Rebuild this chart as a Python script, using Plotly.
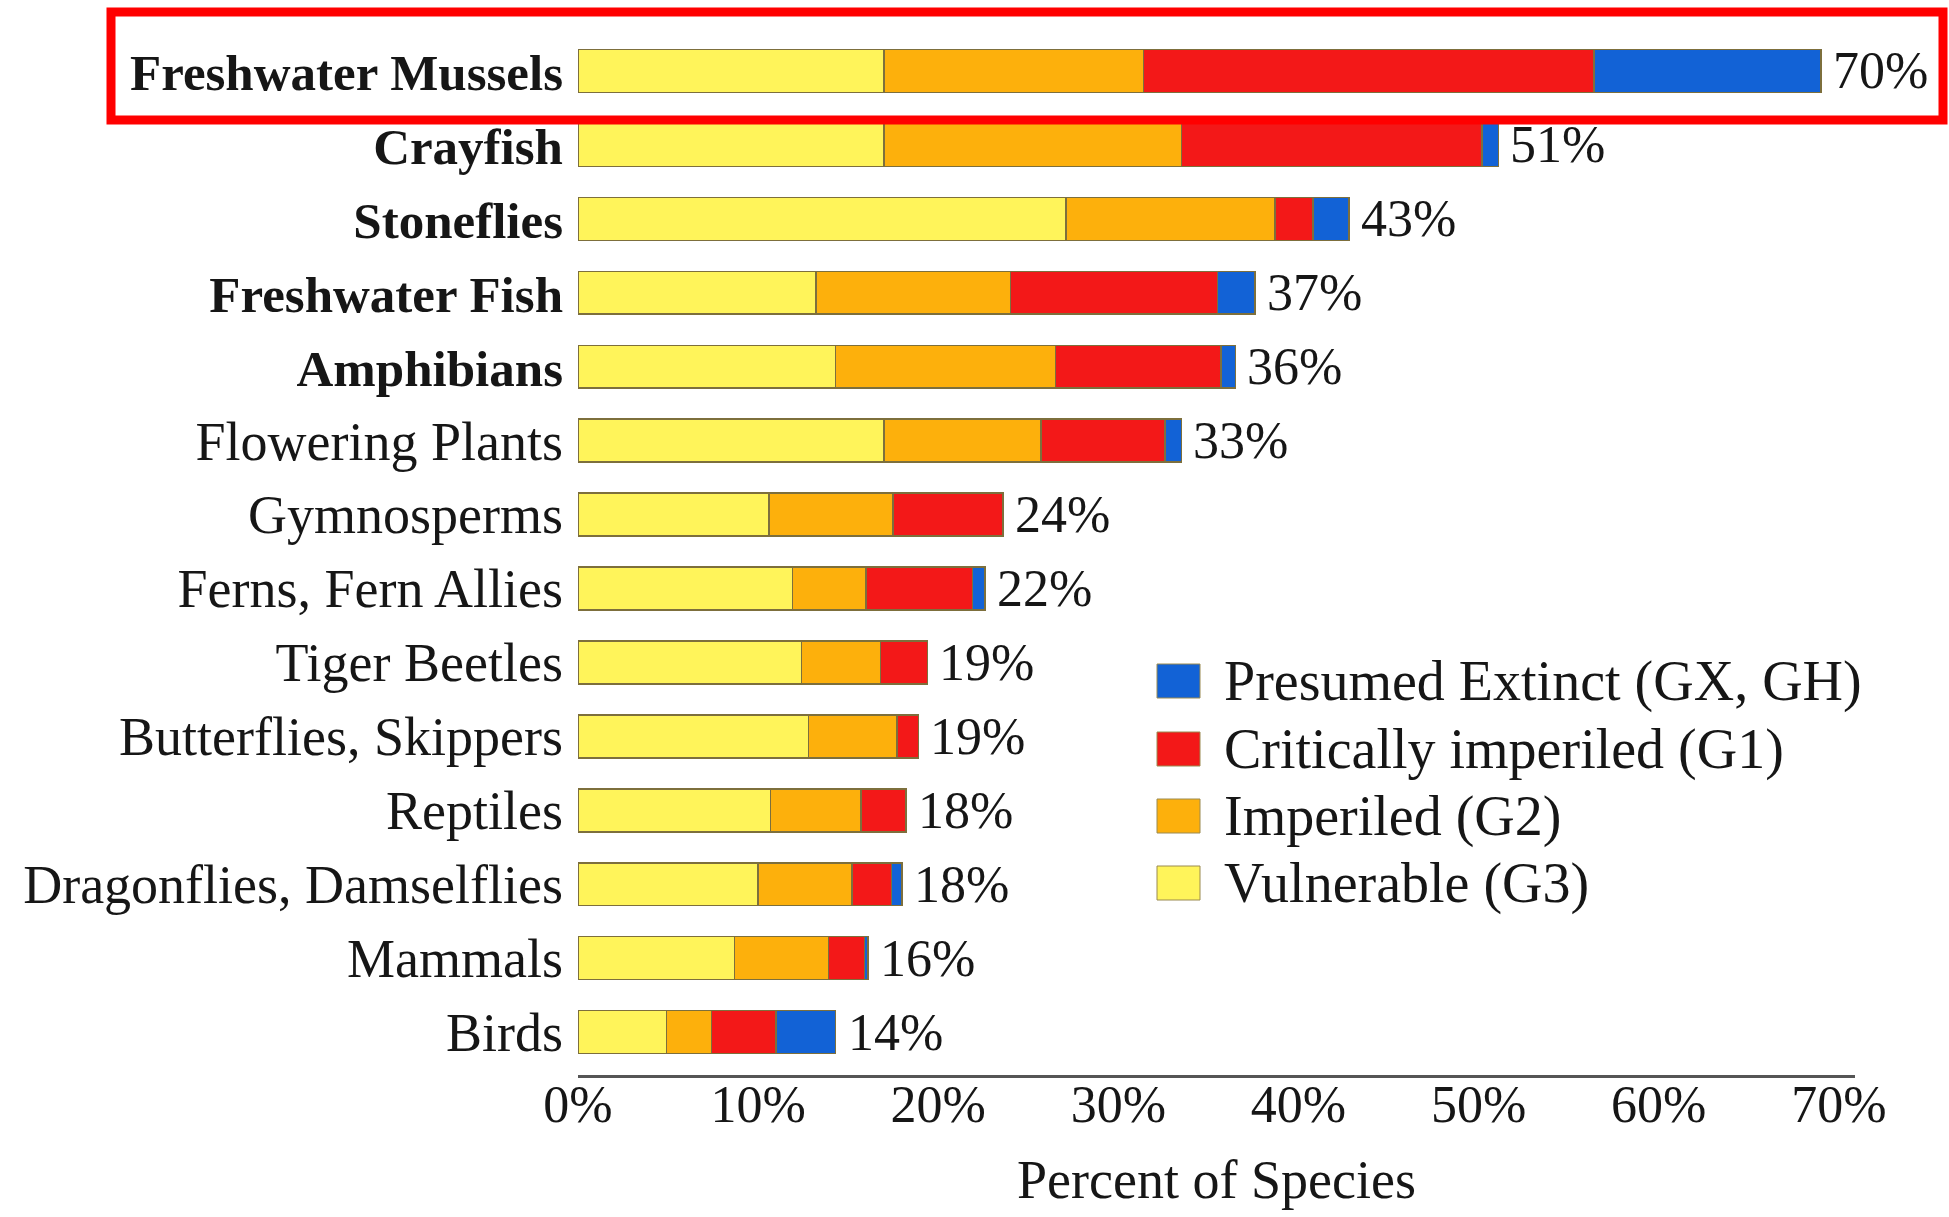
import plotly.graph_objects as go

# ---------------- data ----------------
categories = [
    "Freshwater Mussels", "Crayfish", "Stoneflies", "Freshwater Fish", "Amphibians",
    "Flowering Plants", "Gymnosperms", "Ferns, Fern Allies", "Tiger Beetles",
    "Butterflies, Skippers", "Reptiles", "Dragonflies, Damselflies", "Mammals", "Birds",
]
bold_categories = ["Freshwater Mussels", "Crayfish", "Stoneflies", "Freshwater Fish", "Amphibians"]

vulnerable_g3 = [17.0, 17.0, 27.1, 13.2, 14.3, 17.0, 10.6, 11.9, 12.4, 12.8, 10.7, 10.0, 8.7, 4.9]
imperiled_g2 = [14.4, 16.5, 11.6, 10.8, 12.2, 8.7, 6.9, 4.1, 4.4, 4.9, 5.0, 5.2, 5.2, 2.5]
critically_g1 = [25.0, 16.7, 2.1, 11.5, 9.2, 6.9, 6.1, 5.9, 2.6, 1.2, 2.5, 2.2, 2.0, 3.6]
extinct_gx = [12.6, 0.9, 2.0, 2.1, 0.8, 0.9, 0.0, 0.7, 0.0, 0.0, 0.0, 0.6, 0.2, 3.3]
total_labels = ["70%", "51%", "43%", "37%", "36%", "33%", "24%", "22%", "19%", "19%", "18%", "18%", "16%", "14%"]

series_names = ["Vulnerable (G3)", "Imperiled (G2)", "Critically imperiled (G1)", "Presumed Extinct (GX, GH)"]
x_tick_values = [0, 10, 20, 30, 40, 50, 60, 70]
x_tick_labels = ["0%", "10%", "20%", "30%", "40%", "50%", "60%", "70%"]
x_title = "Percent of Species"

# ---------------- style ----------------
colors = ["#FFF45A", "#FDB00C", "#F31818", "#1262D6"]
FONT = "Liberation Serif, Times New Roman, serif"
TEXT = "#161616"
W, H = 1949, 1217
L, R, T, B = 578, 94, 34, 142

series = [vulnerable_g3, imperiled_g2, critically_g1, extinct_gx]
totals = [round(sum(v), 2) for v in zip(*series)]

fig = go.Figure()
for name, vals, col in zip(series_names, series, colors):
    fig.add_trace(go.Bar(
        y=categories, x=vals, name=name, orientation="h",
        marker=dict(color=col, line=dict(color="#7d6f3c", width=1.5)),
        width=0.58, showlegend=False, hoverinfo="x+name",
    ))

# total labels to the right of each bar
for cat, tot, lab in zip(categories, totals, total_labels):
    fig.add_annotation(x=tot, y=cat, xref="x", yref="y", text=lab, showarrow=False,
                       xanchor="left", yanchor="middle", xshift=10,
                       font=dict(family=FONT, size=52, color=TEXT))

ticktext = [f'<b><span style="font-size:51px">{c}</span></b>' if c in bold_categories else c
            for c in categories]

fig.update_layout(
    width=W, height=H, barmode="stack",
    margin=dict(l=L, r=R, t=T, b=B, pad=0),
    paper_bgcolor="white", plot_bgcolor="white",
    font=dict(family=FONT, color=TEXT),
    showlegend=False,
    xaxis=dict(
        range=[0, 70.9], tickmode="array", tickvals=x_tick_values, ticktext=x_tick_labels,
        tickfont=dict(family=FONT, size=52, color=TEXT), automargin=False,
        showgrid=False, zeroline=False, showline=True, linecolor="#555555", linewidth=3,
        ticks="", ticklabelstandoff=-18,
        title=dict(text=x_title, font=dict(family=FONT, size=54, color=TEXT), standoff=28),
    ),
    yaxis=dict(
        type="category", categoryorder="array", categoryarray=categories,
        range=[13.58, -0.5], automargin=False,
        tickmode="array", tickvals=categories, ticktext=ticktext,
        tickfont=dict(family=FONT, size=54, color=TEXT),
        showgrid=False, zeroline=False, showline=False, ticks="", ticklabelstandoff=14,
    ),
)

# helpers: pixel -> paper coordinates
pw, ph = W - L - R, H - T - B
def px(x):
    return (x - L) / pw
def py(y):
    return (H - B - y) / ph

# legend drawn as squares + text (top row first)
legend_rows_y = [681, 749, 816, 883]
for (name, col), yc in zip(list(zip(series_names, colors))[::-1], legend_rows_y):
    fig.add_shape(type="rect", xref="paper", yref="paper",
                  x0=px(1157), x1=px(1200), y0=py(yc + 17), y1=py(yc - 17),
                  fillcolor=col, line=dict(color="#9a8a50", width=1))
    fig.add_annotation(xref="paper", yref="paper", x=px(1222), y=py(yc),
                       text=name, showarrow=False, xanchor="left", yanchor="middle",
                       font=dict(family=FONT, size=56, color=TEXT))

# red highlight box around the first row
fig.add_shape(type="rect", xref="paper", yref="paper",
              x0=px(111), x1=px(1943), y0=py(120), y1=py(12),
              line=dict(color="#FF0000", width=9), fillcolor="rgba(0,0,0,0)")

fig.write_html("out.html", config={"displayModeBar": False},
               post_script="document.body.style.margin='0';")
